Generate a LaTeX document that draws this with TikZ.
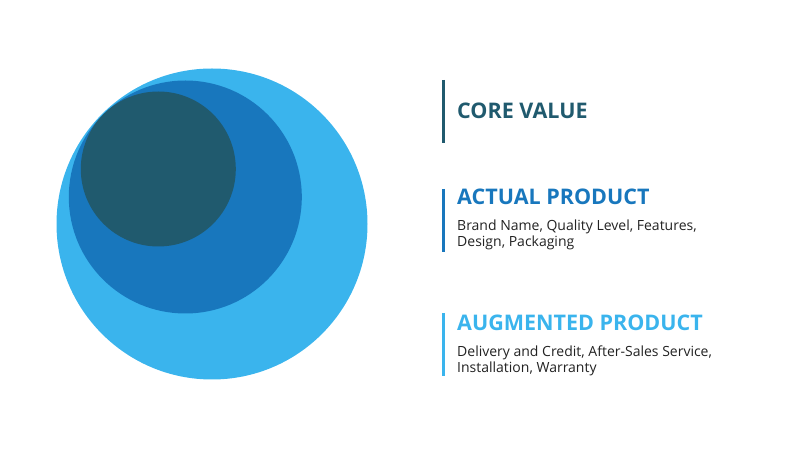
\documentclass[tikz,border=0pt]{standalone}
\usepackage{fontspec}
\setmainfont{Open Sans}
\definecolor{coreteal}{HTML}{205A6E}
\definecolor{actualblue}{HTML}{1877BD}
\definecolor{augblue}{HTML}{3AB4ED}
\definecolor{bodygray}{HTML}{222222}
\tikzset{my circle/.style={circle, inner sep=0pt, minimum size=#1},
my title/.style={anchor=base west, inner sep=0pt, font=\fontsize{21.5}{21.5}\selectfont\bfseries},
my body/.style={anchor=base west, inner sep=0pt, align=left, text=bodygray, font=\fontsize{14}{16}\selectfont},
my bar/.style={line width=3pt},}

\begin{document}
\begin{tikzpicture}[x=1pt,y=-1pt]
\useasboundingbox (0,0) rectangle (796,454);
\node [my circle=311pt,fill=augblue] (augmented) at (212.0,224.0) {};
\node [my circle=233pt,fill=actualblue] (actual) at (185.3,197.0) {};
\node [my circle=155pt,fill=coreteal] (core) at (158.3,169.0) {};
\draw [my bar,coreteal] (443.5, 80.0) -- (443.5,143.0);
\draw [my bar,actualblue] (443.5,189.0) -- (443.5,252.0);
\draw [my bar,augblue] (443.5,313.0) -- (443.5,376.0);
\node [my title,text=coreteal] (core title) at (457.0,119.0) {CORE VALUE};
\node [my title,text=actualblue] (actual title) at (457.0,205.0) {ACTUAL PRODUCT};
\node [my body] (actual text) at (457.0,247.0) {Brand Name, Quality Level, Features,\\Design, Packaging};
\node [my title,text=augblue] (augmented title) at (457.0,331.0) {AUGMENTED PRODUCT};
\node [my body] (augmented text) at (457.0,373.0) {Delivery and Credit, After-Sales Service,\\Installation, Warranty};
\end{tikzpicture}
\end{document}
